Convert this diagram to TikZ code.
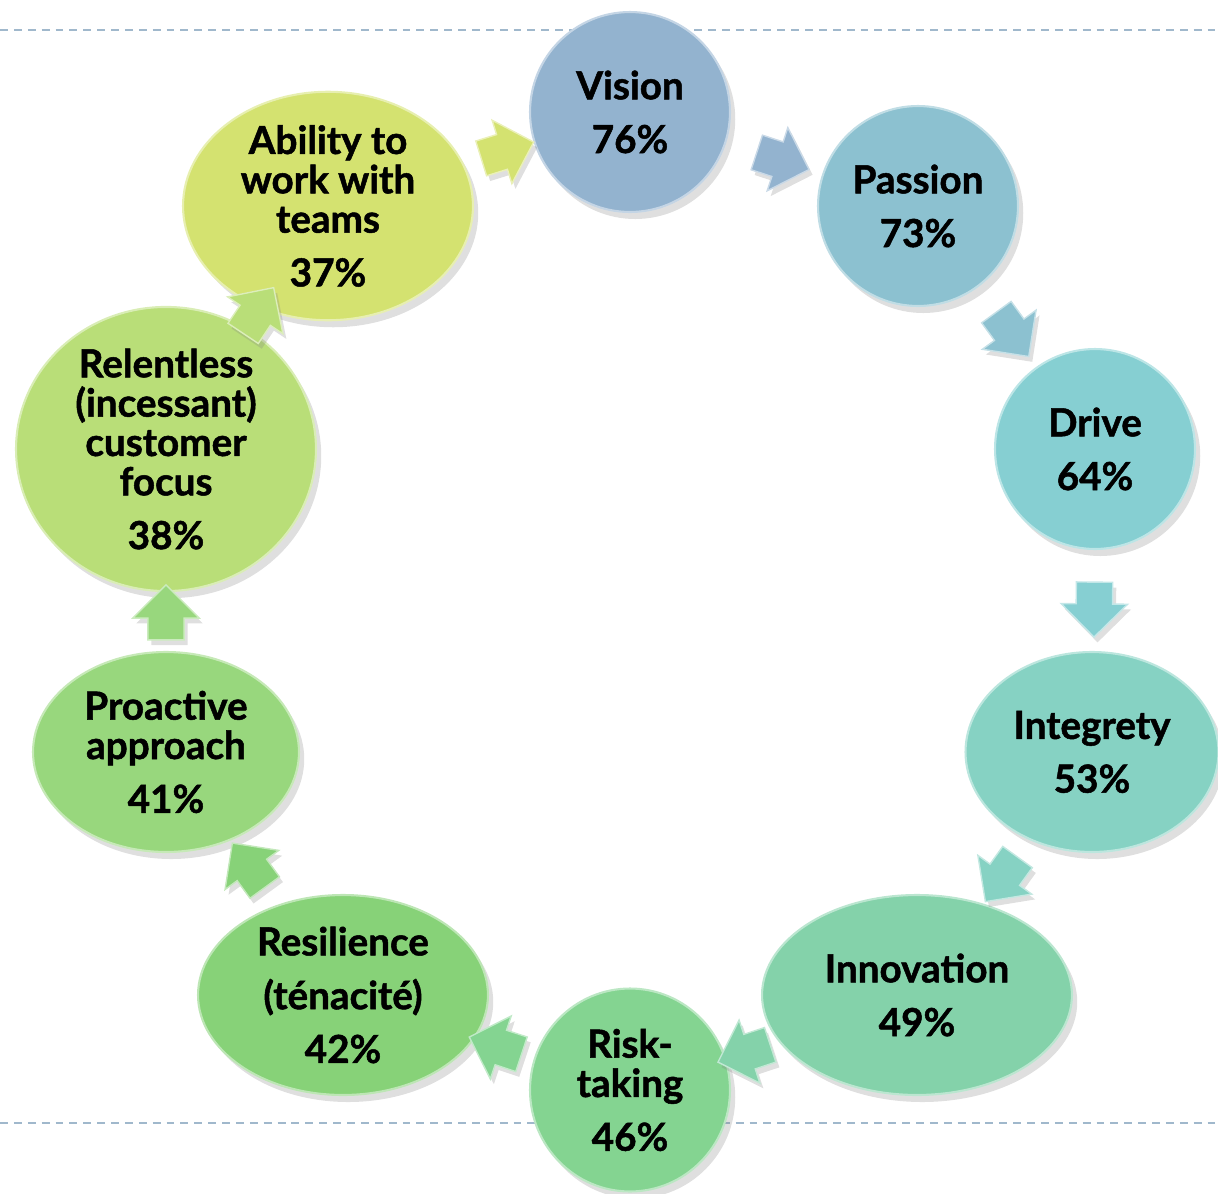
\documentclass[tikz,border=0pt]{standalone}
\usepackage{fontspec}
\setmainfont{Lato}[BoldFeatures={FakeBold=1.3}]
\usetikzlibrary{shapes.geometric,shapes.arrows,shadows,calc}

\definecolor{visioncol}{HTML}{93B3CF}
\definecolor{passioncol}{HTML}{8CC1D0}
\definecolor{drivecol}{HTML}{86CFD2}
\definecolor{integritycol}{HTML}{86D2C3}
\definecolor{innovationcol}{HTML}{84D2AA}
\definecolor{riskcol}{HTML}{84D491}
\definecolor{resiliencecol}{HTML}{87D278}
\definecolor{proactivecol}{HTML}{98D77D}
\definecolor{customercol}{HTML}{B9DE78}
\definecolor{teamscol}{HTML}{D4E270}
\definecolor{guidecol}{HTML}{A0B8CC}

\tikzset{
  bubble/.style={ellipse, fill=#1, draw=#1!55!white, line width=1.2pt, inner sep=0pt,
    align=center, font=\fontsize{22}{22.4}\selectfont\bfseries,
    drop shadow={opacity=.25, shadow xshift=3pt, shadow yshift=-4pt}},
  flowarrow/.style={single arrow, fill=#1, draw=#1!50!white, line width=.8pt,
    minimum height=1.1cm, minimum width=1.3cm, inner sep=.35cm, single arrow head extend=.3cm,
    drop shadow={opacity=.25, shadow xshift=2pt, shadow yshift=-3pt}},
  guide/.style={draw=guidecol, line width=1.2pt, dash pattern=on 4.5pt off 3.4pt}
}

\begin{document}
\begin{tikzpicture}[x=0.02cm, y=-0.02cm]
  \useasboundingbox (0,0) rectangle (1218,1194);
  % Dashed guide lines behind the cycle
  \draw[guide] (0,30) -- (1218,30);
  \draw[guide] (0,1123) -- (1218,1123);

  % The ten bubbles, clockwise from the top
  \node[bubble=visioncol, minimum width=4cm, minimum height=4cm] (vision) at (630,112) {Vision\\[8.2pt]76\%};
  \node[bubble=passioncol, minimum width=4cm, minimum height=4cm] (passion) at (918,206) {Passion\\[8.2pt]73\%};
  \node[bubble=drivecol, minimum width=4cm, minimum height=4cm] (drive) at (1095,449) {Drive\\[8.2pt]64\%};
  \node[bubble=integritycol, minimum width=5.06cm, minimum height=4cm] (integrity) at (1092,752) {Integrety\\[8.2pt]53\%};
  \node[bubble=innovationcol, minimum width=6.2cm, minimum height=4cm] (innovation) at (917,995) {Innovation\\[8.2pt]49\%};
  \node[bubble=riskcol, minimum width=4cm, minimum height=4.06cm] (risk) at (630,1090) {Risk-\\taking\\[8.2pt]46\%};
  \node[bubble=resiliencecol, minimum width=5.8cm, minimum height=4cm] (resilience) at (343,995) {Resilience\\[8.2pt](ténacité)\\[8.2pt]42\%};
  \node[bubble=proactivecol, minimum width=5.32cm, minimum height=4cm] (proactive) at (166,752) {Proactive\\approach\\[8.2pt]41\%};
  \node[bubble=customercol, minimum width=6cm, minimum height=4.84cm] (customer) at (166,449) {Relentless\\(incessant)\\customer\\focus\\[8.2pt]38\%};
  \node[bubble=teamscol, minimum width=5.8cm, minimum height=4.06cm] (teams) at (328,206) {Ability to\\work with\\teams\\[8.2pt]37\%};

  % Block arrows half way between neighbouring bubbles
  \foreach \src/\dst/\col [count=\i] in {teams/vision/teamscol, vision/passion/visioncol,
      passion/drive/passioncol, drive/integrity/drivecol, integrity/innovation/integritycol,
      innovation/risk/innovationcol, risk/resilience/riskcol, resilience/proactive/resiliencecol,
      proactive/customer/proactivecol, customer/teams/customercol}{
    \path let \p1=($(\dst)-(\src)$), \n1={atan2(\y1,\x1)}, \n2={\n1+180} in
      node[flowarrow=\col, rotate=\n1] (arrow\i) at ($(\src.\n1)!0.5!(\dst.\n2)$) {};
  }
\end{tikzpicture}
\end{document}
